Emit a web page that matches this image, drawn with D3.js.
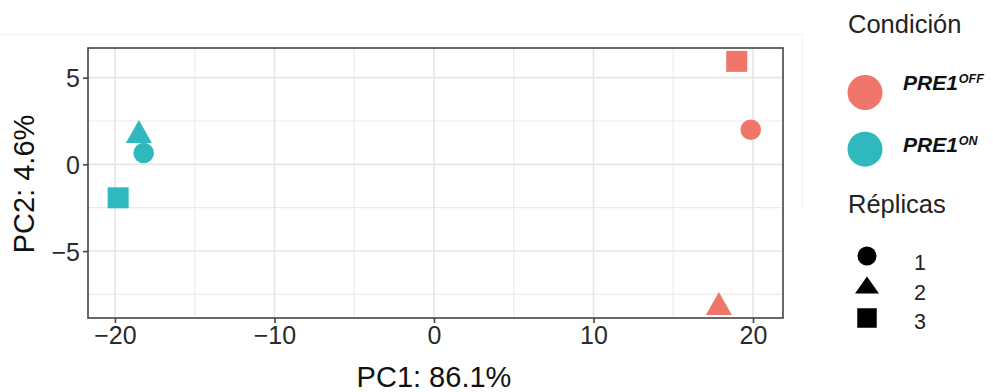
<!DOCTYPE html>
<html>
<head>
<meta charset="utf-8">
<script src="https://cdn.jsdelivr.net/npm/d3@7/dist/d3.min.js"></script>
<style>
  html, body { margin: 0; padding: 0; background: #fff; }
  svg { display: block; font-family: "Liberation Sans", Arial, sans-serif; }
</style>
</head>
<body>
<svg id="chart" width="993" height="392"></svg>
<script>
// ---- data ----
const samples    = ["OFF_1", "OFF_2", "OFF_3", "ON_2", "ON_1", "ON_3"];
const conditions = ["OFF", "OFF", "OFF", "ON", "ON", "ON"];
const replicas   = [1, 2, 3, 2, 1, 3];
const pc1        = [19.86, 17.86, 18.98, -18.5, -18.2, -19.8];
const pc2        = [2.0, -8.02, 5.94, 1.89, 0.65, -1.93];
const xTicks     = [-20, -10, 0, 10, 20];
const yTicks     = [-5, 0, 5];
const xMinor     = [-15, -5, 5, 15];
const yMinor     = [-7.5, -2.5, 2.5];
const condLevels = ["OFF", "ON"];
const condColors = ["#F0756B", "#2FB8BD"];
const repLevels  = [1, 2, 3];
const xTitle = "PC1: 86.1%";
const yTitle = "PC2: 4.6%";

const svg = d3.select("#chart");

// faint screenshot frame artifacts
svg.append("line").attr("x1", 0).attr("x2", 802).attr("y1", 34.5).attr("y2", 34.5)
  .attr("stroke", "#f0f0f0").attr("stroke-width", 1);
svg.append("line").attr("x1", 802.5).attr("x2", 802.5).attr("y1", 34).attr("y2", 208)
  .attr("stroke", "#f3f3f3").attr("stroke-width", 1);

const panel = {left: 88, right: 783, top: 48, bottom: 318};
const x = d3.scaleLinear().domain([-21.69, 21.88]).range([panel.left, panel.right]);
const y = d3.scaleLinear().domain([-8.86, 6.71]).range([panel.bottom, panel.top]);
const color = d3.scaleOrdinal().domain(condLevels).range(condColors);

const g = svg.append("g");

// grid
g.selectAll(".gxm").data(xMinor).join("line")
  .attr("x1", d => x(d)).attr("x2", d => x(d)).attr("y1", panel.top).attr("y2", panel.bottom)
  .attr("stroke", "#ececec").attr("stroke-width", 1.2);
g.selectAll(".gym").data(yMinor).join("line")
  .attr("y1", d => y(d)).attr("y2", d => y(d)).attr("x1", panel.left).attr("x2", panel.right)
  .attr("stroke", "#ececec").attr("stroke-width", 1.2);
g.selectAll(".gx").data(xTicks).join("line")
  .attr("x1", d => x(d)).attr("x2", d => x(d)).attr("y1", panel.top).attr("y2", panel.bottom)
  .attr("stroke", "#e6e6e6").attr("stroke-width", 1.6);
g.selectAll(".gy").data(yTicks).join("line")
  .attr("y1", d => y(d)).attr("y2", d => y(d)).attr("x1", panel.left).attr("x2", panel.right)
  .attr("stroke", "#e6e6e6").attr("stroke-width", 1.6);

// shapes: dims = {d: circle diameter, tw, th: triangle, sq: square side}
function shapePath(rep, cx, cy, dm) {
  if (rep === 1) {
    const r = dm.d / 2;
    return `M${cx - r},${cy}a${r},${r} 0 1,0 ${2*r},0a${r},${r} 0 1,0 ${-2*r},0Z`;
  } else if (rep === 2) {
    const w = dm.tw, h = dm.th;
    return `M${cx},${cy - h/2}L${cx + w/2},${cy + h/2}L${cx - w/2},${cy + h/2}Z`;
  } else {
    const a = dm.sq;
    return `M${cx - a/2},${cy - a/2}h${a}v${a}h${-a}Z`;
  }
}
const plotDims = {d: 20.5, tw: 26, th: 23, sq: 21};
const legDims  = {d: 19, tw: 24, th: 17, sq: 19.5};

// points
const idx = d3.range(samples.length);
g.selectAll(".pt").data(idx).join("path")
  .attr("d", i => shapePath(replicas[i], x(pc1[i]), y(pc2[i]), plotDims))
  .attr("fill", i => color(conditions[i]));

// panel border
g.append("rect").attr("x", panel.left).attr("y", panel.top)
  .attr("width", panel.right - panel.left).attr("height", panel.bottom - panel.top)
  .attr("fill", "none").attr("stroke", "#444").attr("stroke-width", 1.6);

// axes
const xAxis = d3.axisBottom(x).tickValues(xTicks).tickSize(5).tickPadding(3).tickSizeOuter(0);
const yAxis = d3.axisLeft(y).tickValues(yTicks).tickSize(5).tickPadding(3).tickSizeOuter(0);
const gx = svg.append("g").attr("transform", `translate(0,${panel.bottom})`).call(xAxis);
const gy = svg.append("g").attr("transform", `translate(${panel.left},0)`).call(yAxis);
[gx, gy].forEach(a => {
  a.select(".domain").remove();
  a.selectAll(".tick line").attr("stroke", "#444").attr("stroke-width", 1.6);
  a.selectAll(".tick text").attr("fill", "#2a2a2a").attr("font-size", 25)
    .attr("font-family", "'Liberation Sans', Arial, sans-serif");
});
gx.selectAll(".tick text").attr("dy", "0.71em");
gy.selectAll(".tick text").attr("dy", "0.36em");

// axis titles
svg.append("text").attr("x", x(0)).attr("y", 387).attr("text-anchor", "middle")
  .attr("font-size", 29).attr("fill", "#111").text(xTitle);
svg.append("text").attr("transform", `translate(34,${(panel.top + panel.bottom) / 2 + 1}) rotate(-90)`)
  .attr("text-anchor", "middle").attr("font-size", 29).attr("fill", "#111").text(yTitle);

// legend: condition
const lg = svg.append("g");
lg.append("text").attr("x", 848).attr("y", 33).attr("font-size", 25.5).attr("fill", "#222").text("Condición");
const condY = [92.5, 149.2];
const condBase = [90, 152];
condLevels.forEach((c, i) => {
  lg.append("circle").attr("cx", 865).attr("cy", condY[i]).attr("r", 17.5).attr("fill", color(c));
  const t = lg.append("text").attr("x", 903).attr("y", condBase[i])
    .attr("font-weight", "bold").attr("font-style", "italic").attr("fill", "#111");
  t.append("tspan").attr("font-size", 21).text("PRE1");
  t.append("tspan").attr("font-size", 12.5).attr("dy", -7).attr("dx", 1).text(c);
});

// legend: replicas
lg.append("text").attr("x", 848).attr("y", 213).attr("font-size", 25.5).attr("fill", "#222").text("Réplicas");
const repY = [256, 285, 318];
const repBase = [269.5, 300, 328.5];
repLevels.forEach((r, i) => {
  lg.append("path").attr("d", shapePath(r, 867, repY[i], legDims)).attr("fill", "#000");
  lg.append("text").attr("x", 914).attr("y", repBase[i]).attr("font-size", 21.5)
    .attr("fill", "#222").text(String(r));
});
</script>
</body>
</html>
